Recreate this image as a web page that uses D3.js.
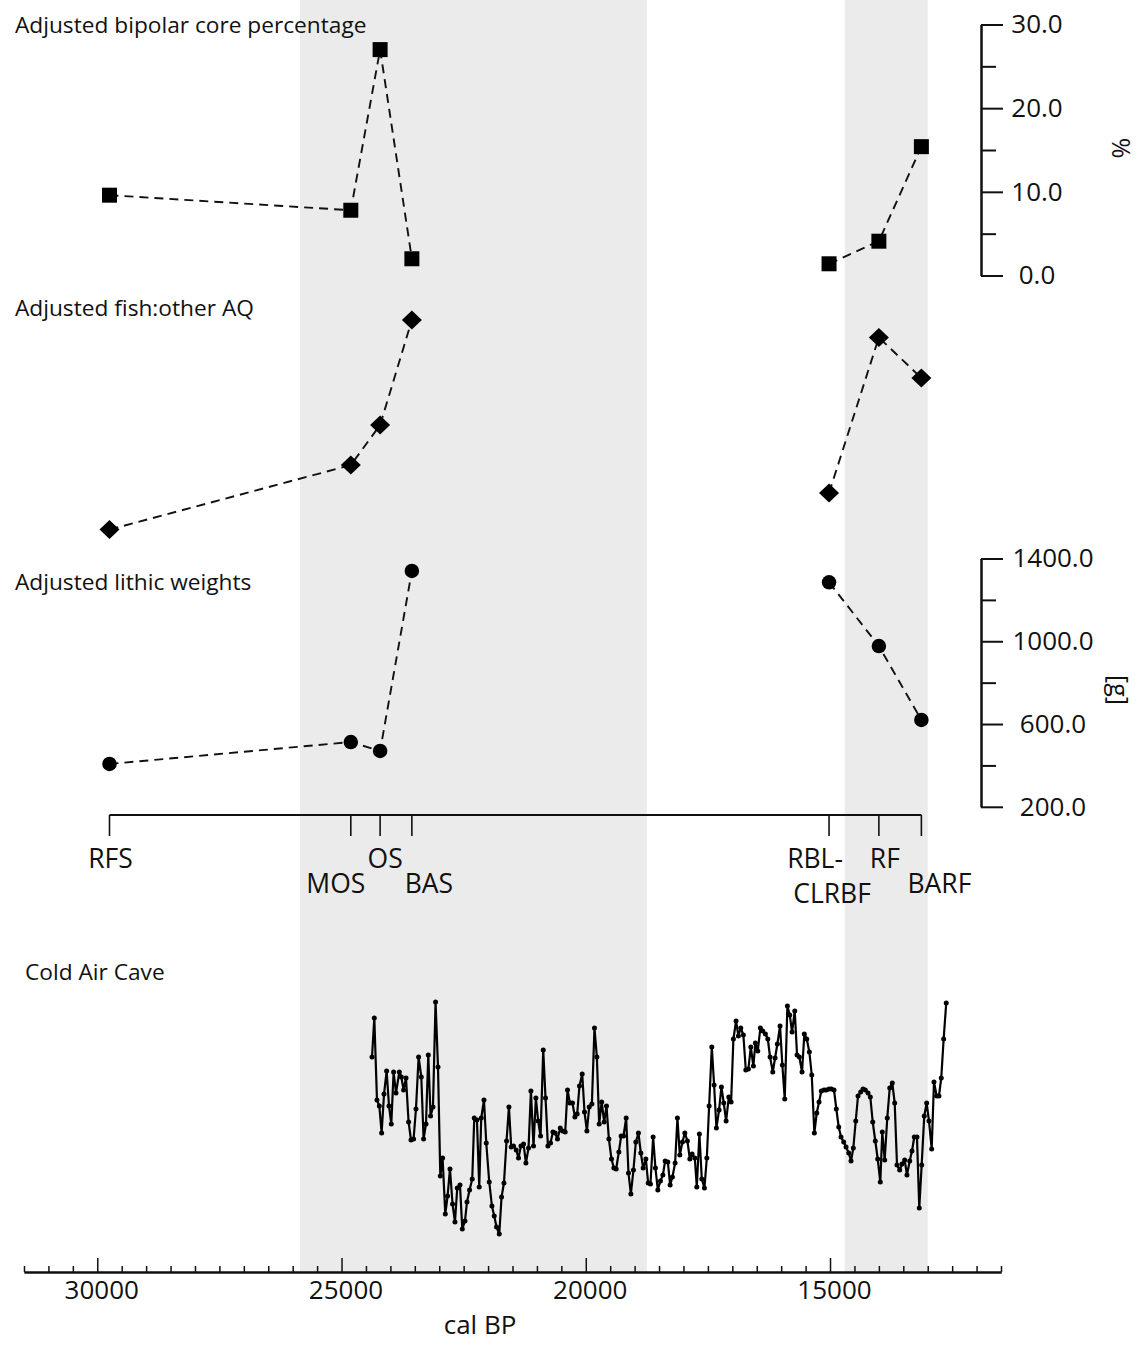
<!DOCTYPE html>
<html>
<head>
<meta charset="utf-8">
<script src="https://cdn.jsdelivr.net/npm/d3@7"></script>
<style>
  body { margin: 0; background: #fff; }
  svg { display: block; font-family: "Open Sans", sans-serif; }
</style>
</head>
<body>
<div id="chart"></div>
<script>
// sites (cal BP) and the three archaeological series
const siteNames = ['RFS', 'MOS', 'OS', 'BAS', 'RBL-CLRBF', 'RF', 'BARF'];
const siteAges = [29750, 24810, 24210, 23560, 15020, 14000, 13130];
const sitePhase = [0, 0, 0, 0, 1, 1, 1];
const bipolarPct = [9.6, 7.8, 27.0, 2.0, 1.4, 4.1, 15.4];
const fishOtherAQ = [0.117, 0.365, 0.519, 0.923, 0.258, 0.856, 0.700]; // relative, no axis
const lithicWeights = [407, 513, 470, 1340, 1285, 977, 620];

const pctTicks = [0, 10, 20, 30];
const pctMinorTicks = [5, 15, 25];
const gramTicks = [200, 600, 1000, 1400];
const gramMinorTicks = [400, 800, 1200];
const ageMajorTicks = [30000, 25000, 20000, 15000];

const shadedPeriods = [[25850, 18750], [14700, 13000]];

const panelTitles = ['Adjusted bipolar core percentage', 'Adjusted fish:other AQ',
  'Adjusted lithic weights', 'Cold Air Cave'];

// Cold Air Cave record (arbitrary relative units)
const cacAge = [24376, 24329, 24274, 24226, 24179, 24130, 24077, 24028, 23981, 23934,
  23885, 23817, 23776, 23729, 23680, 23627, 23578, 23525, 23476, 23422,
  23367, 23320, 23271, 23224, 23177, 23128, 23075, 23025, 22978, 22931,
  22876, 22829, 22780, 22727, 22678, 22631, 22575, 22528, 22473, 22432,
  22379, 22324, 22283, 22228, 22181, 22140, 22084, 22037, 21976, 21921,
  21874, 21827, 21771, 21724, 21675, 21622, 21573, 21526, 21479, 21424,
  21377, 21327, 21274, 21225, 21172, 21123, 21070, 21021, 20974, 20926,
  20871, 20824, 20775, 20722, 20673, 20626, 20579, 20523, 20476, 20421,
  20374, 20325, 20272, 20223, 20176, 20129, 20073, 20026, 19977, 19930,
  19875, 19822, 19773, 19726, 19674, 19623, 19576, 19527, 19474, 19425,
  19378, 19323, 19276, 19228, 19173, 19126, 19077, 19024, 18975, 18922,
  18873, 18825, 18770, 18723, 18676, 18621, 18574, 18525, 18472, 18422,
  18375, 18320, 18273, 18226, 18171, 18124, 18075, 18021, 17972, 17919,
  17870, 17823, 17768, 17727, 17674, 17625, 17571, 17522, 17475, 17420,
  17373, 17326, 17271, 17224, 17175, 17127, 17072, 17025, 16978, 16923,
  16876, 16827, 16774, 16724, 16671, 16622, 16569, 16528, 16479, 16426,
  16377, 16323, 16274, 16227, 16172, 16125, 16078, 16023, 15976, 15927,
  15873, 15824, 15777, 15722, 15675, 15628, 15573, 15526, 15476, 15423,
  15374, 15321, 15272, 15225, 15178, 15123, 15076, 15020, 14973, 14918,
  14871, 14822, 14775, 14720, 14672, 14617, 14570, 14523, 14474, 14427,
  14372, 14325, 14278, 14222, 14175, 14126, 14073, 14024, 13971, 13930,
  13881, 13828, 13778, 13725, 13676, 13629, 13574, 13527, 13472, 13425,
  13369, 13322, 13275, 13220, 13173, 13124, 13071, 13022, 12974, 12919,
  12872, 12817, 12770, 12723, 12674, 12621];
const cacValue = [183, 222, 140, 134, 107, 146, 169, 134, 116, 168,
  147, 168, 163, 150, 162, 118, 100, 101, 131, 183,
  163, 101, 116, 185, 124, 133, 238, 173, 64, 82,
  26, 44, 71, 36, 18, 52, 55, 11, 19, 38,
  50, 61, 122, 120, 53, 122, 140, 97, 58, 34,
  24, 13, 6, 43, 57, 99, 133, 93, 94, 90,
  82, 94, 96, 77, 92, 149, 94, 142, 119, 104,
  190, 142, 94, 97, 108, 107, 101, 112, 109, 108,
  150, 137, 137, 123, 126, 154, 166, 128, 109, 133,
  136, 212, 183, 116, 138, 118, 134, 101, 81, 72,
  71, 88, 104, 104, 122, 67, 46, 70, 98, 107,
  87, 72, 81, 57, 56, 103, 72, 50, 59, 65,
  79, 78, 55, 63, 77, 122, 85, 98, 107, 99,
  81, 86, 82, 53, 106, 61, 52, 82, 134, 193,
  155, 112, 130, 153, 137, 119, 143, 138, 201, 219,
  204, 212, 205, 170, 171, 193, 174, 197, 189, 212,
  209, 206, 201, 183, 168, 182, 196, 214, 175, 141,
  234, 225, 208, 229, 185, 183, 168, 206, 201, 188,
  165, 107, 127, 138, 149, 150, 150, 151, 151, 150,
  131, 113, 103, 98, 93, 87, 79, 92, 119, 144,
  148, 151, 150, 147, 143, 118, 99, 81, 58, 108,
  80, 122, 152, 157, 137, 75, 70, 76, 80, 65,
  79, 89, 103, 103, 32, 75, 124, 137, 119, 91,
  158, 144, 144, 162, 201, 237];

// layout
const width = 1143, height = 1346;
const axisX = 981;          // right-hand value axes
const siteAxisY = 815;
const timeAxisY = 1272;
// where each site label sits relative to its tick: [dx, baseline] per line
const siteLabelLayout = [
  [[1, 868]], [[-15, 893]], [[5, 868]], [[17, 893]],
  [[-14, 868], [3, 903]], [[6, 868]], [[18, 893]]
];
const siteLabelLines = [['RFS'], ['MOS'], ['OS'], ['BAS'], ['RBL-', 'CLRBF'], ['RF'], ['BARF']];
const titlePos = [[15, 33], [15, 316], [15, 590], [25, 980]];

const x = d3.scaleLinear().domain([31500, 11500]).range([24, 1001]);
const yPct = d3.scaleLinear().domain([0, 30]).range([275.5, 24.5]);
const yFish = d3.scaleLinear().domain([0, 1]).range([560, 300]);
const yGram = d3.scaleLinear().domain([200, 1400]).range([806.8, 558.5]);
const yCac = d3.scaleLinear().domain([0, 240]).range([1240, 1000]);

const svg = d3.select('#chart').append('svg')
  .attr('width', width).attr('height', height);
svg.append('rect').attr('width', width).attr('height', height).attr('fill', '#fff');

// shaded periods
svg.selectAll('.band')
  .data(shadedPeriods)
  .enter()
  .append('rect')
  .classed('band', true)
  .attr('x', d => x(d[0]))
  .attr('y', 0)
  .attr('width', d => x(d[1]) - x(d[0]))
  .attr('height', timeAxisY)
  .attr('fill', '#ebebeb');

// titles
svg.selectAll('.title')
  .data(panelTitles)
  .enter()
  .append('text')
  .classed('title', true)
  .attr('x', (_, i) => titlePos[i][0])
  .attr('y', (_, i) => titlePos[i][1])
  .attr('font-size', 22.7)
  .attr('fill', '#111')
  .text(d => d);

// right-hand axes
const styleAxis = g => {
  g.selectAll('path, line').attr('stroke', '#111').attr('stroke-width', 2);
  g.selectAll('text').attr('font-size', 26).attr('fill', '#111')
    .attr('font-family', '"Open Sans", sans-serif');
};

function valueAxis(scale, major, minor, labelCentre, unit, unitPos) {
  const g = svg.append('g').attr('transform', `translate(${axisX},0)`);
  g.append('g').call(d3.axisRight(scale).tickValues(minor).tickSize(15)
    .tickSizeOuter(0).tickFormat('')).call(styleAxis);
  const gMaj = g.append('g').call(d3.axisRight(scale).tickValues(major).tickSize(22)
    .tickSizeOuter(0).tickFormat(d3.format('.1f'))).call(styleAxis);
  gMaj.selectAll('text').attr('x', labelCentre).attr('text-anchor', 'middle');
  svg.append('text')
    .attr('transform', `translate(${unitPos[0]},${unitPos[1]}) rotate(90)`)
    .attr('text-anchor', 'middle')
    .attr('font-size', 25)
    .attr('fill', '#111')
    .text(unit);
}
valueAxis(yPct, pctTicks, pctMinorTicks, 56, '%', [1112, 148]);
valueAxis(yGram, gramTicks, gramMinorTicks, 72, '[g]', [1110, 690]);

// site axis
const sites = siteNames.map((name, i) => ({
  name, age: siteAges[i], phase: sitePhase[i],
  pct: bipolarPct[i], fish: fishOtherAQ[i], g: lithicWeights[i]
}));
svg.append('line')
  .attr('x1', x(d3.max(siteAges))).attr('x2', x(d3.min(siteAges)))
  .attr('y1', siteAxisY).attr('y2', siteAxisY)
  .attr('stroke', '#111').attr('stroke-width', 2);
svg.selectAll('.site-tick')
  .data(sites)
  .enter()
  .append('line')
  .classed('site-tick', true)
  .attr('x1', d => x(d.age)).attr('x2', d => x(d.age))
  .attr('y1', siteAxisY).attr('y2', siteAxisY + 21)
  .attr('stroke', '#111').attr('stroke-width', 1.6);
sites.forEach((d, i) => {
  siteLabelLines[i].forEach((line, j) => {
    const [dx, by] = siteLabelLayout[i][j];
    svg.append('text')
      .attr('x', x(d.age) + dx).attr('y', by)
      .attr('text-anchor', 'middle')
      .attr('font-size', 26.5)
      .attr('fill', '#111')
      .text(line);
  });
});

// dashed series with markers
const phases = d3.groups(sites, d => d.phase).map(p => p[1]);
function series(yAcc, shape) {
  const line = d3.line().x(d => x(d.age)).y(yAcc);
  svg.append('g').selectAll('path')
    .data(phases)
    .enter()
    .append('path')
    .attr('d', line)
    .attr('fill', 'none')
    .attr('stroke', '#111')
    .attr('stroke-width', 1.9)
    .attr('stroke-dasharray', '9 6');
  svg.append('g').selectAll('path')
    .data(sites)
    .enter()
    .append('path')
    .attr('transform', d => `translate(${x(d.age)},${yAcc(d)})`)
    .attr('d', shape)
    .attr('fill', '#000');
}
series(d => yPct(d.pct), 'M-7.5,-7.5H7.5V7.5H-7.5Z');
series(d => yFish(d.fish), 'M0,-9.5L10,0L0,9.5L-10,0Z');
series(d => yGram(d.g), d3.symbol(d3.symbolCircle, 165)());

// Cold Air Cave record
const cac = cacAge.map((a, i) => ({ age: a, v: cacValue[i] }));
svg.append('path')
  .datum(cac)
  .attr('d', d3.line().x(d => x(d.age)).y(d => yCac(d.v)))
  .attr('fill', 'none')
  .attr('stroke', '#000')
  .attr('stroke-width', 2.2)
  .attr('stroke-linejoin', 'round');
svg.append('g').selectAll('circle')
  .data(cac)
  .enter()
  .append('circle')
  .attr('cx', d => x(d.age))
  .attr('cy', d => yCac(d.v))
  .attr('r', 2.5)
  .attr('fill', '#000');

// time axis
const minorAges = d3.range(11500, 31501, 500).filter(a => a % 5000 !== 0);
const gTime = svg.append('g').attr('transform', `translate(0,${timeAxisY})`);
gTime.append('g').call(d3.axisBottom(x).tickValues(minorAges).tickSize(-6)
  .tickSizeOuter(0).tickFormat('')).call(styleAxis);
gTime.append('g').call(d3.axisBottom(x).tickValues(ageMajorTicks).tickSize(-14)
  .tickSizeOuter(0).tickPadding(9).tickFormat(d3.format('d'))).call(styleAxis);
gTime.selectAll('.tick line').attr('stroke-width', 1.5);
gTime.selectAll('.tick text').attr('dx', 4);
svg.append('text')
  .attr('x', 480).attr('y', 1334)
  .attr('text-anchor', 'middle')
  .attr('font-size', 26)
  .attr('fill', '#111')
  .text('cal BP');
</script>
</body>
</html>
